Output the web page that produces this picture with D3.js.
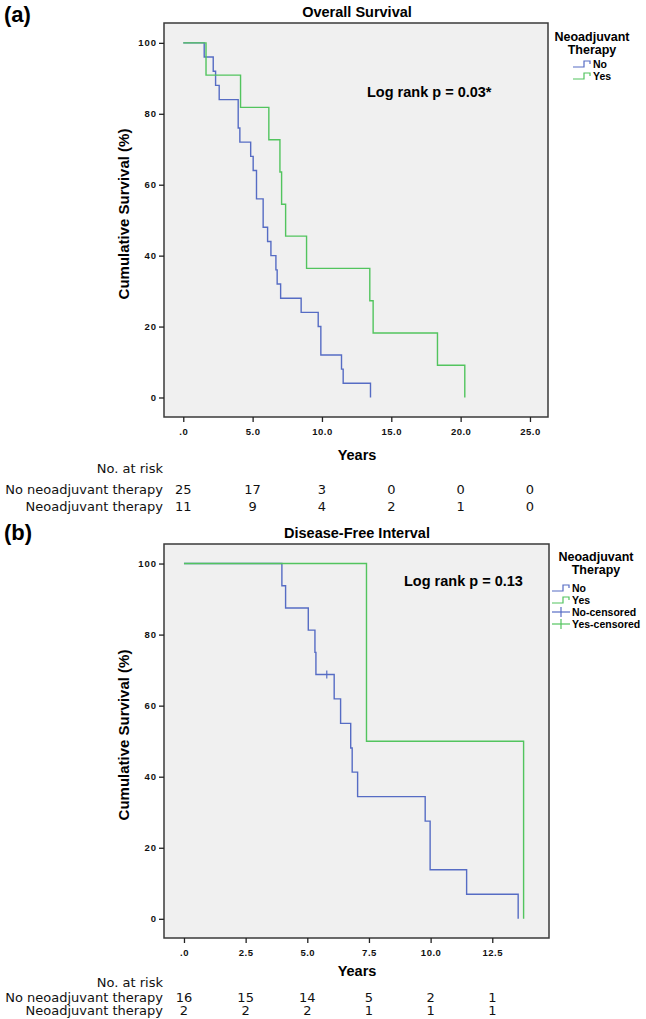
<!DOCTYPE html>
<html><head><meta charset="utf-8">
<script src="https://cdn.jsdelivr.net/npm/d3@7"></script>
<style>body{margin:0;background:#fff}</style></head>
<body>
<svg id="c" width="646" height="1019"></svg>
<script>
// ---------- data ----------
const osNoTimes = [1.51, 2.16, 2.33, 2.59, 3.96, 4.08, 4.86, 5.04, 5.28, 5.76, 6.08, 6.32, 6.68, 6.77, 7.02, 8.50, 9.73, 9.92, 11.41, 11.53, 13.5];
const osNoSurv  = [96, 92, 88, 84, 76, 72, 68, 64, 56, 48, 44, 40, 36, 32, 28, 24, 20, 12, 8, 4, 0];
const osYesTimes = [1.64, 4.13, 6.17, 6.97, 7.09, 7.38, 8.89, 13.45, 13.69, 18.33, 20.3];
const osYesSurv  = [90.9, 81.8, 72.7, 63.6, 54.5, 45.5, 36.4, 27.3, 18.2, 9.1, 0];

const dfiNoTimes = [3.97, 4.12, 5.04, 5.31, 5.35, 6.09, 6.35, 6.76, 6.82, 7.04, 9.78, 9.98, 11.46, 13.55];
const dfiNoSurv  = [93.75, 87.5, 81.25, 75, 68.75, 61.9, 55.0, 48.1, 41.3, 34.4, 27.5, 13.8, 6.9, 0];
const dfiNoCensorTimes = [5.79];
const dfiNoCensorSurv = [68.75];
const dfiYesTimes = [7.4, 13.77];
const dfiYesSurv  = [50, 0];

const osXTicks  = [0, 5, 10, 15, 20, 25];
const dfiXTicks = [0, 2.5, 5, 7.5, 10, 12.5];
const yTicks = [0, 20, 40, 60, 80, 100];

const riskRowLabels = ["No neoadjuvant therapy", "Neoadjuvant therapy"];
const osRiskNo  = [25, 17, 3, 0, 0, 0];
const osRiskYes = [11, 9, 4, 2, 1, 0];
const dfiRiskNo  = [16, 15, 14, 5, 2, 1];
const dfiRiskYes = [2, 2, 2, 1, 1, 1];

const legendOS  = ["No", "Yes"];
const legendDFI = ["No", "Yes", "No-censored", "Yes-censored"];

// ---------- drawing ----------
const BLUE = "#566cc4", GREEN = "#52c45e";
const svg = d3.select("#c");
const ARIAL = "'Liberation Sans', Arial, sans-serif";
const VERD = "'DejaVu Sans', Verdana, sans-serif";

function xfmt(v){ const s = d3.format(".1f")(v); return s === "0.0" ? ".0" : s; }

function panel(cfg){
  const g = svg.append("g");
  const x = d3.scaleLinear().domain(cfg.xDomain).range([cfg.L, cfg.R]);
  const y = d3.scaleLinear().domain(cfg.yDomain).range([cfg.B, cfg.T]);

  // panel letter
  g.append("text").attr("x", 4).attr("y", cfg.letterY).attr("font-family", ARIAL)
    .attr("font-weight", "bold").attr("font-size", 22).text(cfg.letter);
  // title
  g.append("text").attr("x", 357).attr("y", cfg.titleY).attr("text-anchor","middle")
    .attr("font-family", ARIAL).attr("font-weight","bold").attr("font-size", 14.5).text(cfg.title);

  // box
  g.append("rect").attr("x", cfg.L).attr("y", cfg.T).attr("width", cfg.R-cfg.L).attr("height", cfg.B-cfg.T)
    .attr("fill", "#f0f0f0").attr("stroke", "#3a3a3a").attr("stroke-width", 1.5);

  // y axis
  const ya = g.append("g").attr("transform", `translate(${cfg.L},0)`)
    .call(d3.axisLeft(y).tickValues(yTicks).tickSize(5).tickPadding(2));
  ya.select(".domain").remove();
  ya.selectAll("line").attr("stroke", "#222").attr("stroke-width", 1.3);
  ya.selectAll("text").attr("font-family", ARIAL).attr("font-weight","bold").attr("font-size", 9.5)
    .attr("letter-spacing", "1px").attr("fill", "#111");

  // x axis
  const xa = g.append("g").attr("transform", `translate(0,${cfg.B})`)
    .call(d3.axisBottom(x).tickValues(cfg.xTicks).tickFormat(xfmt).tickSize(5).tickPadding(6));
  xa.select(".domain").remove();
  xa.selectAll("line").attr("stroke", "#222").attr("stroke-width", 1.3);
  xa.selectAll("text").attr("font-family", ARIAL).attr("font-weight","bold").attr("font-size", 9.5)
    .attr("letter-spacing", "0.5px").attr("fill", "#111");

  // axis titles
  g.append("text").attr("transform", `translate(${cfg.L-35},${(cfg.T+cfg.B)/2 - 6}) rotate(-90)`)
    .attr("text-anchor","middle").attr("font-family", ARIAL).attr("font-weight","bold")
    .attr("font-size", 15).text("Cumulative Survival (%)");
  g.append("text").attr("x", 357).attr("y", cfg.yearsY).attr("text-anchor","middle")
    .attr("font-family", ARIAL).attr("font-weight","bold").attr("font-size", 14.5).text("Years");

  // curves
  const line = d3.line().x(d => x(d[0])).y(d => y(d[1])).curve(d3.curveStepAfter);
  cfg.series.forEach(s => {
    const pts = [[0, 100]].concat(s.times.map((t,i) => [t, s.surv[i]]));
    g.append("path").attr("d", line(pts)).attr("fill","none").attr("stroke", s.color).attr("stroke-width", 1.4);
    if (s.ctimes) s.ctimes.forEach((t,i) => {
      g.append("line").attr("x1", x(t)).attr("x2", x(t)).attr("y1", y(s.csurv[i])-4).attr("y2", y(s.csurv[i])+4)
        .attr("stroke", s.color).attr("stroke-width", 1.2);
    });
  });

  // log rank
  g.append("text").attr("x", cfg.lrX).attr("y", cfg.lrY).attr("font-family", ARIAL).attr("font-weight","bold")
    .attr("font-size", 14.5).text(cfg.logrank);

  // legend
  const lg = g.append("g");
  lg.append("text").attr("x", cfg.legTitleX).attr("y", cfg.legTitleY).attr("text-anchor","middle")
    .attr("font-family", ARIAL).attr("font-weight","bold").attr("font-size", 12.5).text("Neoadjuvant");
  lg.append("text").attr("x", cfg.legTitleX).attr("y", cfg.legTitleY+12.5).attr("text-anchor","middle")
    .attr("font-family", ARIAL).attr("font-weight","bold").attr("font-size", 12.5).text("Therapy");
  cfg.legend.forEach((name, i) => {
    const yy = cfg.legItemY + i*12;
    const col = name.startsWith("No") ? BLUE : GREEN;
    const x0 = cfg.legSymX;
    if (name.indexOf("censored") < 0) {
      lg.append("path").attr("d", `M${x0},${yy+3}H${x0+11}V${yy-3}H${x0+17}V${yy}`)
        .attr("fill","none").attr("stroke", col).attr("stroke-width", 1.2);
    } else {
      lg.append("line").attr("x1", x0).attr("x2", x0+18).attr("y1", yy).attr("y2", yy).attr("stroke", col).attr("stroke-width", 1.2);
      lg.append("line").attr("x1", x0+9).attr("x2", x0+9).attr("y1", yy-5).attr("y2", yy+5).attr("stroke", col).attr("stroke-width", 1.2);
    }
    lg.append("text").attr("x", x0+20).attr("y", yy+4).attr("font-family", ARIAL).attr("font-weight","bold")
      .attr("font-size", 10.5).text(name);
  });

  // number at risk
  const rt = g.append("g").attr("font-family", VERD).attr("font-size", 13).attr("fill", "#111");
  rt.append("text").attr("x", 163).attr("y", cfg.riskHeadY).attr("text-anchor","end").text("No. at risk");
  [cfg.riskNo, cfg.riskYes].forEach((vals, r) => {
    const yy = cfg.riskRowY[r];
    rt.append("text").attr("x", 163).attr("y", yy).attr("text-anchor","end").text(riskRowLabels[r]);
    vals.forEach((v, i) => {
      rt.append("text").attr("x", x(cfg.xTicks[i])).attr("y", yy).attr("text-anchor","middle").text(v);
    });
  });
}

panel({
  letter: "(a)", letterY: 22, title: "Overall Survival", titleY: 17,
  L: 164, R: 548, T: 23, B: 417,
  xDomain: [-1.39, 26.3], yDomain: [-5.5, 105.6], xTicks: osXTicks,
  yearsY: 460,
  series: [
    {times: osNoTimes, surv: osNoSurv, color: BLUE},
    {times: osYesTimes, surv: osYesSurv, color: GREEN}
  ],
  logrank: "Log rank p = 0.03*", lrX: 367, lrY: 97,
  legend: legendOS, legTitleX: 592, legTitleY: 41, legItemY: 64, legSymX: 573,
  riskHeadY: 473, riskRowY: [494, 511], riskNo: osRiskNo, riskYes: osRiskYes
});

panel({
  letter: "(b)", letterY: 540, title: "Disease-Free Interval", titleY: 538,
  L: 164, R: 549, T: 544, B: 938,
  xDomain: [-0.81, 14.8], yDomain: [-5.4, 105.5], xTicks: dfiXTicks,
  yearsY: 976,
  series: [
    {times: dfiNoTimes, surv: dfiNoSurv, color: BLUE, ctimes: dfiNoCensorTimes, csurv: dfiNoCensorSurv},
    {times: dfiYesTimes, surv: dfiYesSurv, color: GREEN}
  ],
  logrank: "Log rank p = 0.13", lrX: 404, lrY: 586,
  legend: legendDFI, legTitleX: 596, legTitleY: 561, legItemY: 588, legSymX: 552,
  riskHeadY: 987, riskRowY: [1002, 1015], riskNo: dfiRiskNo, riskYes: dfiRiskYes
});
</script>
</body></html>
